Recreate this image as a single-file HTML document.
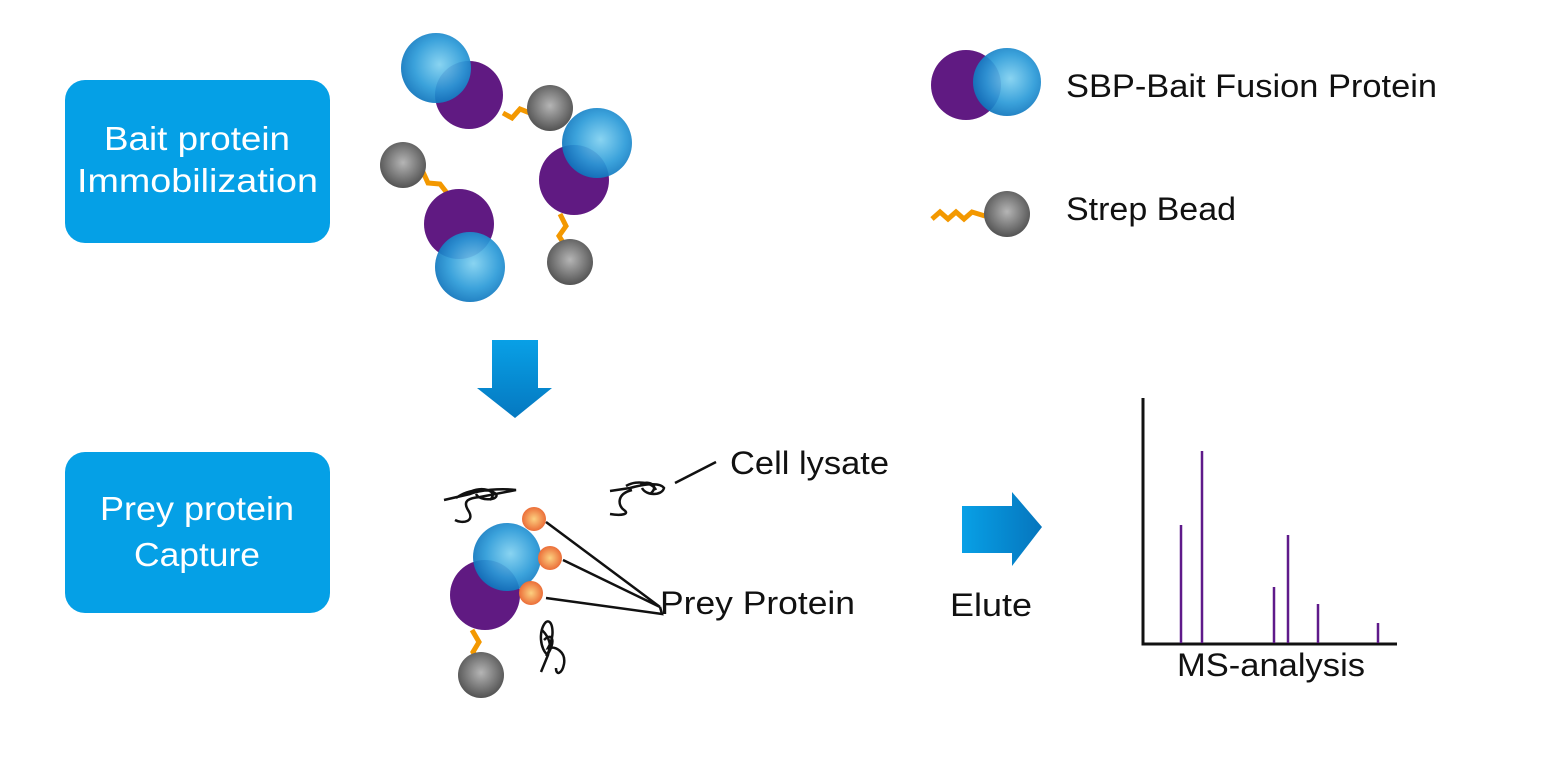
<!DOCTYPE html>
<html><head><meta charset="utf-8"><style>
html,body{margin:0;padding:0;background:#fff;}
svg{display:block;}
text{font-family:"Liberation Sans",sans-serif;}
</style></head><body>
<svg width="1558" height="763" viewBox="0 0 1558 763" xmlns="http://www.w3.org/2000/svg">
<defs>
<radialGradient id="bl" cx="0.55" cy="0.45" r="0.6"><stop offset="0" stop-color="#7fd0f0"/><stop offset="0.6" stop-color="#2a9ad8"/><stop offset="1" stop-color="#0a6fb8"/></radialGradient>
<radialGradient id="gr" cx="0.5" cy="0.45" r="0.6"><stop offset="0" stop-color="#b5b5b5"/><stop offset="1" stop-color="#4a4a4a"/></radialGradient>
<radialGradient id="or" cx="0.5" cy="0.5" r="0.6"><stop offset="0" stop-color="#fcd080"/><stop offset="1" stop-color="#e85a2a"/></radialGradient>
<linearGradient id="ad" x1="0" y1="0" x2="0" y2="1"><stop offset="0" stop-color="#08a0e6"/><stop offset="1" stop-color="#0578c0"/></linearGradient>
<linearGradient id="ar" x1="0" y1="0" x2="1" y2="0"><stop offset="0" stop-color="#08a0e6"/><stop offset="1" stop-color="#0575bd"/></linearGradient>
</defs>
<rect x="65" y="80" width="265" height="163" rx="20" fill="#05a0e6"/>
<rect x="65" y="452" width="265" height="161" rx="20" fill="#05a0e6"/>
<g font-size="33" fill="#fff" lengthAdjust="spacingAndGlyphs">
<text x="104" y="150" textLength="186" lengthAdjust="spacingAndGlyphs">Bait protein</text>
<text x="77" y="192" textLength="241" lengthAdjust="spacingAndGlyphs">Immobilization</text>
<text x="100" y="520" textLength="194" lengthAdjust="spacingAndGlyphs">Prey protein</text>
<text x="134" y="566" textLength="126" lengthAdjust="spacingAndGlyphs">Capture</text>
</g>

<g fill="none" stroke="#f39800" stroke-width="5">
<path d="M503,113 L512,118 L520,109 L530,113"/>
<path d="M560,214 L566,226 L559,236 L564,244"/>
<path d="M423,172 L428,183 L440,184 L447,193"/>
<path d="M472,630 L479,642 L473,652 L478,660"/>
<path d="M932,219 L940,212 L948,219 L956,212 L964,219 L972,212 L985,216"/>
</g>
<circle cx="469" cy="95" r="34" fill="#601a82"/>
<circle cx="436" cy="68" r="35" fill="url(#bl)" opacity="0.92"/>
<circle cx="550" cy="108" r="23" fill="url(#gr)"/>
<circle cx="574" cy="180" r="35" fill="#601a82"/>
<circle cx="597" cy="143" r="35" fill="url(#bl)" opacity="0.92"/>
<circle cx="570" cy="262" r="23" fill="url(#gr)"/>
<circle cx="403" cy="165" r="23" fill="url(#gr)"/>
<circle cx="459" cy="224" r="35" fill="#601a82"/>
<circle cx="470" cy="267" r="35" fill="url(#bl)" opacity="0.92"/>

<circle cx="966" cy="85" r="35" fill="#601a82"/>
<circle cx="1007" cy="82" r="34" fill="url(#bl)" opacity="0.92"/>
<circle cx="1007" cy="214" r="23" fill="url(#gr)"/>
<text x="1066" y="97" font-size="32" fill="#111" textLength="371" lengthAdjust="spacingAndGlyphs">SBP-Bait Fusion Protein</text>
<text x="1066" y="220" font-size="32" fill="#111" textLength="170" lengthAdjust="spacingAndGlyphs">Strep Bead</text>

<path d="M492,340 H538 V388 H552 L515,418 L477,388 H492 Z" fill="url(#ad)"/>

<circle cx="485" cy="595" r="35" fill="#601a82"/>
<circle cx="507" cy="557" r="34" fill="url(#bl)" opacity="0.92"/>
<circle cx="481" cy="675" r="23" fill="url(#gr)"/>
<circle cx="534" cy="519" r="12" fill="url(#or)"/>
<circle cx="550" cy="558" r="12" fill="url(#or)"/>
<circle cx="531" cy="593" r="12" fill="url(#or)"/>
<g stroke="#111" stroke-width="2.5" fill="none">
<path d="M546,522 L660,607 M563,560 L660,607 M546,598 L662,614 L660,607"/>
<path d="M675,483 L716,462"/>
<path d="M444,500 L470,494 C480,490 500,488 516,490 L480,497 C470,498 462,500 468,510 C476,522 462,524 455,520 M456,498 C470,488 490,488 496,494 C500,500 480,502 476,494 M470,492 C480,486 500,490 490,500"/>
<path d="M610,491 L630,488 C644,484 660,482 664,488 C662,496 646,496 642,488 M626,486 C636,480 652,482 656,490 M632,490 C616,494 618,506 624,510 C630,514 622,516 610,514 M640,484 C650,480 660,486 650,494"/>
<path d="M541,672 L548,655 C540,650 538,630 546,622 C552,618 556,634 548,648 C556,646 566,652 564,664 C562,674 556,676 556,668 M544,640 C552,632 556,640 548,654 M542,630 C548,636 554,646 546,656"/>
</g>
<text x="730" y="474" font-size="32" fill="#111" textLength="159" lengthAdjust="spacingAndGlyphs">Cell lysate</text>
<text x="660" y="614" font-size="32" fill="#111" textLength="195" lengthAdjust="spacingAndGlyphs">Prey Protein</text>

<path d="M962,506 H1012 V492 L1042,527 L1012,566 V553 H962 Z" fill="url(#ar)"/>
<text x="950" y="616" font-size="32" fill="#111" textLength="82" lengthAdjust="spacingAndGlyphs">Elute</text>

<path d="M1143,398 V644 H1397" fill="none" stroke="#111" stroke-width="3"/>
<g stroke="#5f1a8a" stroke-width="2.5">
<line x1="1181" y1="525" x2="1181" y2="643"/>
<line x1="1202" y1="451" x2="1202" y2="643"/>
<line x1="1274" y1="587" x2="1274" y2="643"/>
<line x1="1288" y1="535" x2="1288" y2="643"/>
<line x1="1318" y1="604" x2="1318" y2="643"/>
<line x1="1378" y1="623" x2="1378" y2="643"/>
</g>
<text x="1177" y="676" font-size="32" fill="#111" textLength="188" lengthAdjust="spacingAndGlyphs">MS-analysis</text>
</svg>
</body></html>
